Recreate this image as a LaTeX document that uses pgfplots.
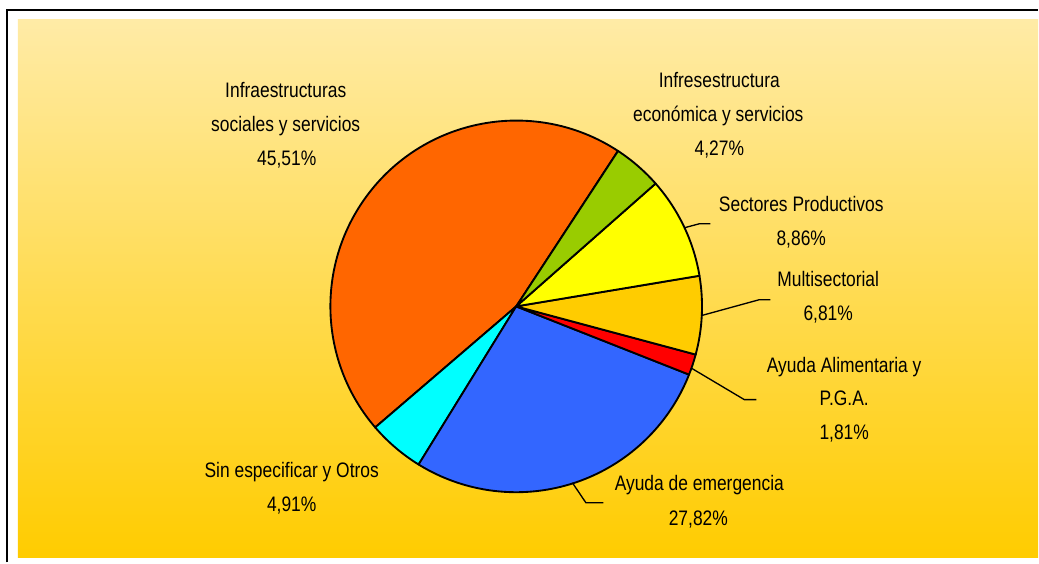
\documentclass[border=0pt]{standalone}
\usepackage{pgfplots}
\pgfplotsset{compat=1.18}
\usepackage{pgfplotstable}
\usepackage{fontspec}
\setmainfont{Liberation Sans}[FakeStretch=0.83]

\definecolor{cOrange}{HTML}{FF6600}
\definecolor{cCyan}{HTML}{00FFFF}
\definecolor{cBlue}{HTML}{3366FF}
\definecolor{cRed}{HTML}{FF0000}
\definecolor{cGold}{HTML}{FFCC00}
\definecolor{cYellow}{HTML}{FFFF00}
\definecolor{cGreen}{HTML}{99CC00}
\definecolor{bgTop}{HTML}{FFEBA6}
\definecolor{bgBot}{HTML}{FFCC00}

\tikzset{lbl/.style={anchor=base, inner sep=0pt, font=\fontsize{15.75pt}{18pt}\selectfont, text=black}}

% slices in counter-clockwise order, starting at 56.8 degrees
\pgfplotstableread{
value col
45.51 cOrange
4.91  cCyan
27.82 cBlue
1.81  cRed
6.81  cGold
8.86  cYellow
4.27  cGreen
}\piedata

\begin{document}
\begin{tikzpicture}
\begin{axis}[
  width=779.25pt, height=422.25pt, scale only axis,
  xmin=0, xmax=1039, ymin=0, ymax=563,
  hide axis, clip=false,
]
% canvas
\path[fill=white] (axis cs:0,0) rectangle (axis cs:1039,563);
\shade[top color=bgTop, bottom color=bgBot] (axis cs:18,5) rectangle (axis cs:1039,543);
\draw[line width=1.5pt] (axis cs:7,0) -- (axis cs:7,553) -- (axis cs:1039,553);

% pie slices
\def\angacc{56.8}
\pgfplotsforeachungrouped \i in {0,...,6}{%
  \pgfplotstablegetelem{\i}{value}\of\piedata \let\sliceval\pgfplotsretval
  \pgfplotstablegetelem{\i}{col}\of\piedata \let\slicecol\pgfplotsretval
  \pgfmathsetmacro\angend{\angacc+3.6*\sliceval}%
  \edef\temp{\noexpand\filldraw[fill=\slicecol, draw=black, line width=1.4pt, line join=round]
    (axis cs:516.7,256.3) -- ++(\angacc:139.5pt) arc[start angle=\angacc, end angle=\angend, radius=139.5pt] -- cycle;}%
  \temp
  \global\let\angacc\angend
}

% leader lines
\draw[line width=1pt] (axis cs:685,335) -- (axis cs:700,339) -- (axis cs:711,339);
\draw[line width=1pt] (axis cs:701.7,247) -- (axis cs:760,263) -- (axis cs:771,263);
\draw[line width=1pt] (axis cs:691.7,194.7) -- (axis cs:745,163) -- (axis cs:757,163);
\draw[line width=1pt] (axis cs:573,79.7) -- (axis cs:586.5,59.7) -- (axis cs:604,59.7);

% labels
\node[lbl] at (axis cs:286,465) {Infraestructuras};
\node[lbl] at (axis cs:286,431) {sociales y servicios};
\node[lbl] at (axis cs:287,397) {45,51\%};

\node[lbl] at (axis cs:720,475) {Infresestructura};
\node[lbl] at (axis cs:719,441) {económica y servicios};
\node[lbl] at (axis cs:720,407) {4,27\%};

\node[lbl] at (axis cs:802,351) {Sectores Productivos};
\node[lbl] at (axis cs:802,317) {8,86\%};

\node[lbl] at (axis cs:829,276) {Multisectorial};
\node[lbl] at (axis cs:829,242) {6,81\%};

\node[lbl] at (axis cs:845,190) {Ayuda Alimentaria y};
\node[lbl] at (axis cs:845,157) {P.G.A.};
\node[lbl] at (axis cs:845,123) {1,81\%};

\node[lbl] at (axis cs:292,85) {Sin especificar y Otros};
\node[lbl] at (axis cs:292,51) {4,91\%};

\node[lbl] at (axis cs:700,72) {Ayuda de emergencia};
\node[lbl] at (axis cs:699,37) {27,82\%};
\end{axis}
\end{tikzpicture}
\end{document}
